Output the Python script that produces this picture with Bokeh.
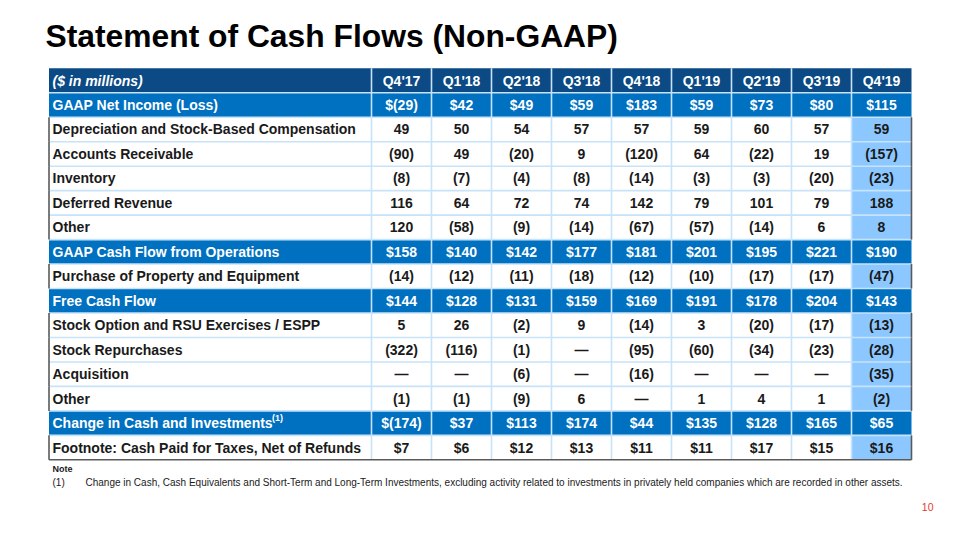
from bokeh.plotting import figure
from bokeh.models import Range1d
from bokeh.embed import file_html
from bokeh.resources import INLINE
from bokeh.core.properties import value

title = "Statement of Cash Flows (Non-GAAP)"
quarters = ["Q4'17", "Q1'18", "Q2'18", "Q3'18", "Q4'18", "Q1'19", "Q2'19", "Q3'19", "Q4'19"]
corner_label = "($ in millions)"

row_labels = [
    "GAAP Net Income (Loss)",
    "Depreciation and Stock-Based Compensation",
    "Accounts Receivable",
    "Inventory",
    "Deferred Revenue",
    "Other",
    "GAAP Cash Flow from Operations",
    "Purchase of Property and Equipment",
    "Free Cash Flow",
    "Stock Option and RSU Exercises / ESPP",
    "Stock Repurchases",
    "Acquisition",
    "Other",
    "Change in Cash and Investments",
    "Footnote: Cash Paid for Taxes, Net of Refunds",
]

net_income = [-29, 42, 49, 59, 183, 59, 73, 80, 115]
depreciation_sbc = [49, 50, 54, 57, 57, 59, 60, 57, 59]
accounts_receivable = [-90, 49, -20, 9, -120, 64, -22, 19, -157]
inventory = [-8, -7, -4, -8, -14, -3, -3, -20, -23]
deferred_revenue = [116, 64, 72, 74, 142, 79, 101, 79, 188]
other_ops = [120, -58, -9, -14, -67, -57, -14, 6, 8]
cash_from_ops = [158, 140, 142, 177, 181, 201, 195, 221, 190]
capex = [-14, -12, -11, -18, -12, -10, -17, -17, -47]
free_cash_flow = [144, 128, 131, 159, 169, 191, 178, 204, 143]
stock_option_espp = [5, 26, -2, 9, -14, 3, -20, -17, -13]
stock_repurchases = [-322, -116, -1, None, -95, -60, -34, -23, -28]
acquisition = [None, None, -6, None, -16, None, None, None, -35]
other_fin = [-1, -1, -9, 6, None, 1, 4, 1, -2]
change_in_cash = [-174, 37, 113, 174, 44, 135, 128, 165, 65]
taxes_paid = [7, 6, 12, 13, 11, 11, 17, 15, 16]

row_values = [net_income, depreciation_sbc, accounts_receivable, inventory, deferred_revenue,
              other_ops, cash_from_ops, capex, free_cash_flow, stock_option_espp,
              stock_repurchases, acquisition, other_fin, change_in_cash, taxes_paid]
highlight_rows = [0, 6, 8, 13]
dollar_rows = [0, 6, 8, 13, 14]
superscript_rows = [13]

note_title = "Note"
note_marker = "(1)"
note_text = ("Change in Cash, Cash Equivalents and Short-Term and Long-Term Investments, excluding activity "
             "related to investments in privately held companies which are recorded in other assets.")
page_number = "10"

NAVY = "#0B4A84"
BLUE = "#0070C0"
LIGHT = "#8CC8FF"
GRID = "#C6E3FA"
DARK = "#1A1A1A"
BORDER = "#5A5A5A"
FONT = value("Liberation Sans")
FS = "14px"


def fmt(v, dollar):
    if v is None:
        return "\u2014"
    s = f"({abs(v)})" if v < 0 else f"{v}"
    return ("$" + s) if dollar else s


p = figure(width=944, height=524, output_backend="svg", toolbar_location=None,
           x_range=Range1d(0, 944), y_range=Range1d(524, 0), min_border=0)
p.axis.visible = False
p.grid.visible = False
p.outline_line_color = None
p.background_fill_color = "white"
p.border_fill_color = "white"

x_left = 48.5
lab_right = 371.0
col_w = 60.0
top = 67.8
row_h = 24.47
n_cols = len(quarters)
n_rows = len(row_labels) + 1
x_right = lab_right + n_cols * col_w
bottom = top + n_rows * row_h

# cell fills
L, R, T, B, C = [], [], [], [], []
for r in range(n_rows):
    t = top + r * row_h
    b = t + row_h
    if r == 0:
        base = NAVY
    elif (r - 1) in highlight_rows:
        base = BLUE
    else:
        base = "white"
    L.append(x_left); R.append(lab_right); T.append(t); B.append(b); C.append(base)
    for c in range(n_cols):
        col = base
        if c == n_cols - 1 and base == "white":
            col = LIGHT
        L.append(lab_right + c * col_w); R.append(lab_right + (c + 1) * col_w)
        T.append(t); B.append(b); C.append(col)
p.quad(left=L, right=R, top=T, bottom=B, fill_color=C, line_color=None)

# grid lines
gx0, gy0, gx1, gy1 = [], [], [], []
for c in range(n_cols):
    x = lab_right + c * col_w
    gx0.append(x); gx1.append(x); gy0.append(top); gy1.append(bottom)
for r in range(1, n_rows):
    y = top + r * row_h
    gx0.append(x_left); gx1.append(x_right); gy0.append(y); gy1.append(y)
p.segment(x0=gx0, y0=gy0, x1=gx1, y1=gy1, line_color=GRID, line_width=1.6)

# dark outer border along white rows
bx0, by0, bx1, by1 = [], [], [], []
for r in range(1, n_rows):
    if (r - 1) in highlight_rows:
        continue
    t = top + r * row_h
    b = t + row_h
    for x in (x_left, x_right):
        bx0.append(x); bx1.append(x); by0.append(t); by1.append(b)
bx0.append(x_left); bx1.append(x_right); by0.append(bottom); by1.append(bottom)
p.segment(x0=bx0, y0=by0, x1=bx1, y1=by1, line_color=BORDER, line_width=1.6)

# header text
p.text(x=[52], y=[top + row_h / 2], text=[corner_label], text_font=FONT, text_font_size=FS,
       text_font_style="bold italic", text_color="white", text_baseline="middle", text_align="left")
p.text(x=[lab_right + (c + 0.5) * col_w for c in range(n_cols)], y=[top + row_h / 2] * n_cols,
       text=quarters, text_font=FONT, text_font_size=FS, text_font_style="bold",
       text_color="white", text_baseline="middle", text_align="center")

# row labels and values
lx, ly, lt, lc = [], [], [], []
vx, vy, vt, vc = [], [], [], []
for i, lab in enumerate(row_labels):
    y = top + (i + 1.5) * row_h
    color = "white" if i in highlight_rows else DARK
    lx.append(52); ly.append(y); lt.append(lab); lc.append(color)
    for c, v in enumerate(row_values[i]):
        vx.append(lab_right + (c + 0.5) * col_w); vy.append(y)
        vt.append(fmt(v, i in dollar_rows)); vc.append(color)
p.text(x=lx, y=ly, text=lt, text_color=lc, text_font=FONT, text_font_size=FS,
       text_font_style="bold", text_baseline="middle", text_align="left")
p.text(x=vx, y=vy, text=vt, text_color=vc, text_font=FONT, text_font_size=FS,
       text_font_style="bold", text_baseline="middle", text_align="center")
for i in superscript_rows:
    y = top + (i + 1.5) * row_h
    p.text(x=[271.5], y=[y - 5], text=["(1)"], text_color="white", text_font=FONT,
           text_font_size="9px", text_font_style="bold", text_baseline="middle", text_align="left")

# title
p.text(x=[45], y=[35], text=[title], text_font=FONT, text_font_size="31.8px", text_font_style="bold",
       text_color="black", text_baseline="middle", text_align="left")

# note
p.text(x=[52], y=[468], text=[note_title], text_font=FONT, text_font_size="9px", text_font_style="bold",
       text_color=DARK, text_baseline="middle", text_align="left")
p.text(x=[52], y=[482], text=[note_marker], text_font=FONT, text_font_size="10px",
       text_color=DARK, text_baseline="middle", text_align="left")
p.text(x=[85], y=[482], text=[note_text], text_font=FONT, text_font_size="10px",
       text_color=DARK, text_baseline="middle", text_align="left")
p.text(x=[933], y=[506], text=[page_number], text_font=FONT, text_font_size="10.5px",
       text_color="#E8382F", text_baseline="middle", text_align="right")

open("out.html", "w").write(file_html(p, INLINE))
